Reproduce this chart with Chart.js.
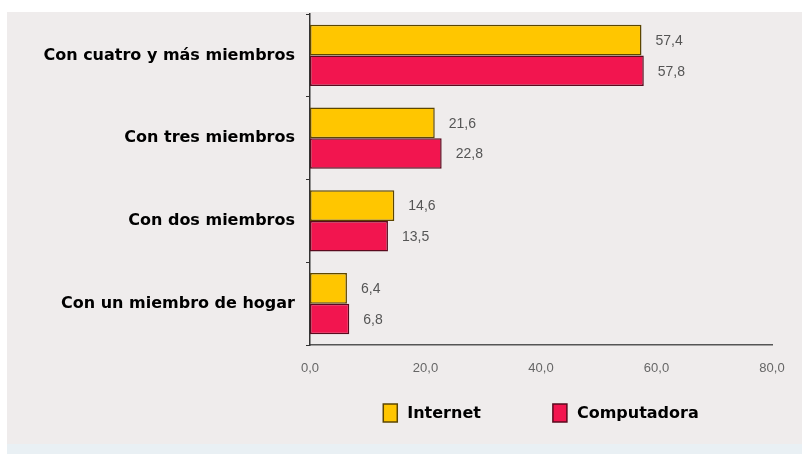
<!DOCTYPE html>
<html>
<head>
<meta charset="utf-8">
<script src="https://cdn.jsdelivr.net/npm/chart.js@4/dist/chart.umd.min.js"></script>
<style>
  html, body { margin: 0; padding: 0; background: #ffffff; width: 806px; height: 454px; overflow: hidden; }
  #panel { position: absolute; left: 7px; top: 12px; width: 795px; height: 432px; background: #efecec; }
  #strip { position: absolute; left: 7px; top: 444px; width: 795px; height: 10px; background: #e9f0f4; }
  canvas { display: block; }
</style>
</head>
<body>
<div id="panel"><canvas id="c" width="795" height="432"></canvas></div>
<div id="strip"></div>
<script>
const categories = ["Con cuatro y más miembros", "Con tres miembros", "Con dos miembros", "Con un miembro de hogar"];
const internetValues = [57.4, 21.6, 14.6, 6.4];
const computadoraValues = [57.8, 22.8, 13.5, 6.8];
const seriesNames = ["Internet", "Computadora"];
const axisMin = 0, axisMax = 80, axisStep = 20;

const fmt = v => v.toFixed(1).replace('.', ',');
const BOLD = 'bold 16px "DejaVu Sans", Verdana, sans-serif';

const valueLabels = {
  id: 'valueLabels',
  afterDatasetsDraw(chart) {
    const ctx = chart.ctx;
    ctx.save();
    ctx.font = '14px "Liberation Sans", Arial, sans-serif';
    ctx.fillStyle = '#555555';
    ctx.textAlign = 'left';
    ctx.textBaseline = 'middle';
    chart.data.datasets.forEach((ds, i) => {
      const meta = chart.getDatasetMeta(i);
      meta.data.forEach((el, j) => {
        ctx.fillText(fmt(ds.data[j]), el.x + 14, el.y + 1);
      });
    });
    ctx.restore();
  }
};

const bottomLegend = {
  id: 'bottomLegend',
  afterDraw(chart) {
    const ctx = chart.ctx;
    const area = chart.chartArea;
    ctx.save();
    ctx.font = BOLD;
    ctx.textBaseline = 'middle';
    ctx.textAlign = 'left';
    const boxW = 14, boxH = 18, textGap = 10, itemGap = 72;
    const items = chart.data.datasets.map(ds => ({ ds, w: ctx.measureText(ds.label).width }));
    let total = 0;
    items.forEach((it, i) => { total += boxW + textGap + it.w + (i < items.length - 1 ? itemGap : 0); });
    let x = (area.left + area.right) / 2 - total / 2;
    const cy = 401;
    items.forEach(it => {
      ctx.fillStyle = it.ds.backgroundColor;
      ctx.fillRect(x, cy - boxH / 2, boxW, boxH);
      ctx.lineWidth = 1.5;
      ctx.strokeStyle = it.ds.borderColor;
      ctx.strokeRect(x, cy - boxH / 2, boxW, boxH);
      ctx.fillStyle = '#000000';
      ctx.fillText(it.ds.label, x + boxW + textGap, cy + 1);
      x += boxW + textGap + it.w + itemGap;
    });
    ctx.restore();
  }
};

new Chart(document.getElementById('c'), {
  type: 'bar',
  data: {
    labels: categories,
    datasets: [
      { label: seriesNames[0], data: internetValues, backgroundColor: '#ffc600', borderColor: '#5c4600', borderWidth: 1.5, borderSkipped: false },
      { label: seriesNames[1], data: computadoraValues, backgroundColor: '#f2154f', borderColor: '#5a0a1e', borderWidth: 1.5, borderSkipped: false }
    ]
  },
  options: {
    indexAxis: 'y',
    responsive: false,
    animation: false,
    events: [],
    layout: { padding: { top: 2, right: 30, bottom: 49, left: 0 } },
    datasets: { bar: { categoryPercentage: 0.74, barPercentage: 1.0 } },
    scales: {
      x: {
        min: axisMin, max: axisMax,
        afterFit(s) { s.height = 50; s.paddingLeft = 0; s.paddingRight = 0; },
        ticks: { stepSize: axisStep, callback: v => fmt(v), color: '#666666', font: { family: '"Liberation Sans", Arial, sans-serif', size: 13 }, padding: 16 },
        grid: { display: false, drawTicks: false },
        border: { display: true, color: '#555555', width: 1.5, dash: [1, 1] }
      },
      y: {
        afterFit(s) { s.width = 303; s.paddingTop = 0; s.paddingBottom = 0; },
        ticks: { color: '#000000', font: { family: '"DejaVu Sans", Verdana, sans-serif', size: 16, weight: 'bold' }, padding: 11 },
        grid: { display: true, drawOnChartArea: false, drawTicks: true, tickLength: 4, offset: true, color: '#333333' },
        border: { display: true, color: '#333333', width: 1.5 }
      }
    },
    plugins: {
      legend: { display: false },
      tooltip: { enabled: false }
    }
  },
  plugins: [valueLabels, bottomLegend]
});
</script>
</body>
</html>
